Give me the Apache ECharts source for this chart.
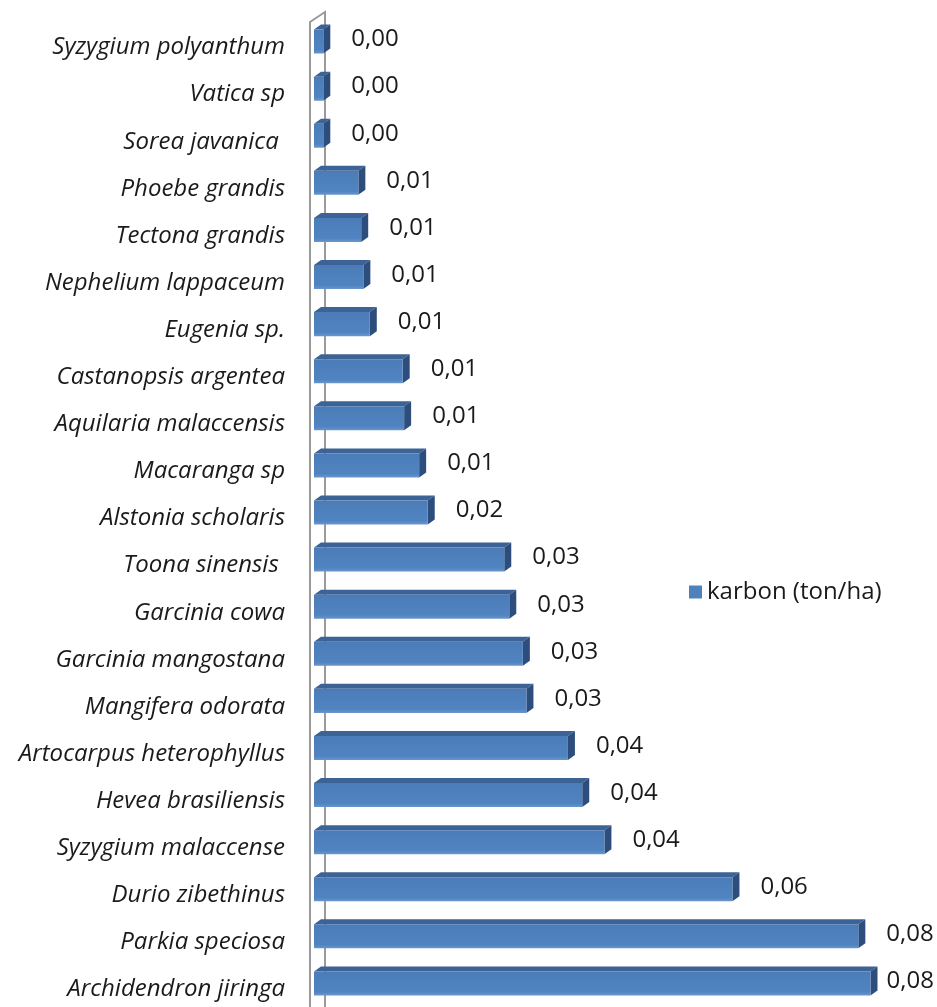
<!DOCTYPE html>
<html>
<head>
<meta charset="utf-8">
<script src="https://cdn.jsdelivr.net/npm/echarts@6/dist/echarts.min.js"></script>
<style>
  html, body { margin: 0; padding: 0; background: #fff; }
  #chart { width: 937px; height: 1007px; }
</style>
</head>
<body>
<div id="chart"></div>
<script>
// Species, listed bottom to top as they appear on the category axis
const species = [
  'Archidendron jiringa',
  'Parkia speciosa',
  'Durio zibethinus',
  'Syzygium malaccense',
  'Hevea brasiliensis',
  'Artocarpus heterophyllus',
  'Mangifera odorata',
  'Garcinia mangostana',
  'Garcinia cowa',
  'Toona sinensis ',
  'Alstonia scholaris',
  'Macaranga sp',
  'Aquilaria malaccensis',
  'Castanopsis argentea',
  'Eugenia sp.',
  'Nephelium lappaceum',
  'Tectona grandis',
  'Phoebe grandis',
  'Sorea javanica ',
  'Vatica sp',
  'Syzygium polyanthum'
];

// Carbon stock per species (ton/ha)
const carbon = [
  0.0778, 0.0761, 0.0585, 0.0406, 0.0375, 0.0355, 0.0297,
  0.0292, 0.0273, 0.0266, 0.0159, 0.0147, 0.0126, 0.0124,
  0.0078, 0.0069, 0.0066, 0.0062, 0.0013, 0.0013, 0.0013
];

const seriesName = 'karbon (ton/ha)';
const FONT = 'Open Sans';
const FONT_SIZE = 24;
const TEXT_COLOR = '#1a1a1a';

const fmt = v => v.toFixed(2).replace('.', ',');

const chart = echarts.init(document.getElementById('chart'), null, { renderer: 'canvas' });

// 3D-looking bar: front face, top face and right side face, plus its value label
function renderBar(params, api) {
  const v = api.value(0);
  const c = api.value(1);
  const p0 = api.coord([0, c]);
  const p1 = api.coord([v, c]);
  const band = api.size([0, 1])[1];
  const h = band * 0.51;
  const dx = 7, dy = 5;
  const x0 = p0[0], x1 = p1[0];
  const yT = p0[1] - h / 2, yB = p0[1] + h / 2;
  const text = fmt(v);
  const tw = echarts.format.getTextRect
    ? echarts.format.getTextRect(text, FONT_SIZE + 'px ' + FONT).width
    : 50;
  // keep the label inside the chart area
  const lx = Math.min(x1 + 28, chart.getWidth() - tw - 3);
  return {
    type: 'group',
    children: [
      {
        type: 'polygon',
        shape: { points: [[x0, yT], [x0 + dx, yT - dy], [x1 + dx, yT - dy], [x1, yT]] },
        style: { fill: '#3c6296' }
      },
      {
        type: 'polygon',
        shape: { points: [[x1, yT], [x1 + dx, yT - dy], [x1 + dx, yB - dy], [x1, yB]] },
        style: { fill: '#2d4e7c' }
      },
      {
        type: 'rect',
        shape: { x: x0, y: yT, width: x1 - x0, height: h },
        style: {
          fill: new echarts.graphic.LinearGradient(0, 0, 0, 1, [
            { offset: 0, color: '#4b7cb8' },
            { offset: 0.85, color: '#5084c1' },
            { offset: 1, color: '#6a96cb' }
          ])
        }
      },
      {
        type: 'text',
        x: lx,
        y: p0[1] - 2,
        style: {
          text: text,
          fontFamily: FONT,
          fontSize: FONT_SIZE,
          fill: TEXT_COLOR,
          align: 'left',
          verticalAlign: 'middle'
        }
      }
    ]
  };
}

chart.setOption({
  backgroundColor: '#ffffff',
  animation: false,
  grid: { left: 314, top: 18, width: 608, height: 991, containLabel: false },
  xAxis: {
    type: 'value',
    min: 0,
    max: 0.085,
    show: false
  },
  yAxis: {
    type: 'category',
    data: species,
    axisLine: { show: false },
    axisTick: { show: false },
    splitLine: { show: false },
    axisLabel: {
      margin: 29,
      formatter: name => '{n|' + name + '}',
      rich: {
        n: {
          fontFamily: FONT,
          fontStyle: 'italic',
          fontSize: FONT_SIZE,
          color: TEXT_COLOR,
          padding: [12, 0, 0, 0]
        }
      }
    }
  },
  legend: {
    left: 684,
    top: 575,
    icon: 'rect',
    itemWidth: 13,
    itemHeight: 13,
    itemGap: 8,
    textStyle: { fontFamily: FONT, fontSize: FONT_SIZE, color: TEXT_COLOR },
    data: [{ name: seriesName, itemStyle: { color: '#4f81bd' } }]
  },
  series: [{
    name: seriesName,
    type: 'custom',
    itemStyle: { color: '#4f81bd' },
    encode: { x: 0, y: 1 },
    data: carbon.map((v, i) => [v, i]),
    renderItem: renderBar
  }]
});

// Side wall of the 3D plot area, placed from the axis scales
const x0 = chart.convertToPixel({ xAxisIndex: 0 }, 0);
const band = chart.convertToPixel({ yAxisIndex: 0 }, 0) - chart.convertToPixel({ yAxisIndex: 0 }, 1);
const topCat = chart.convertToPixel({ yAxisIndex: 0 }, species.length - 1) - band / 2;
const H = chart.getHeight();
chart.setOption({
  graphic: [
    {
      type: 'polyline',
      z: -1,
      silent: true,
      shape: { points: [[x0 - 4, H], [x0 - 4, topCat + 4], [x0 + 11, topCat - 6], [x0 + 11, H]] },
      style: { stroke: '#9a9a9a', lineWidth: 2, fill: null }
    }
  ]
});
</script>
</body>
</html>
